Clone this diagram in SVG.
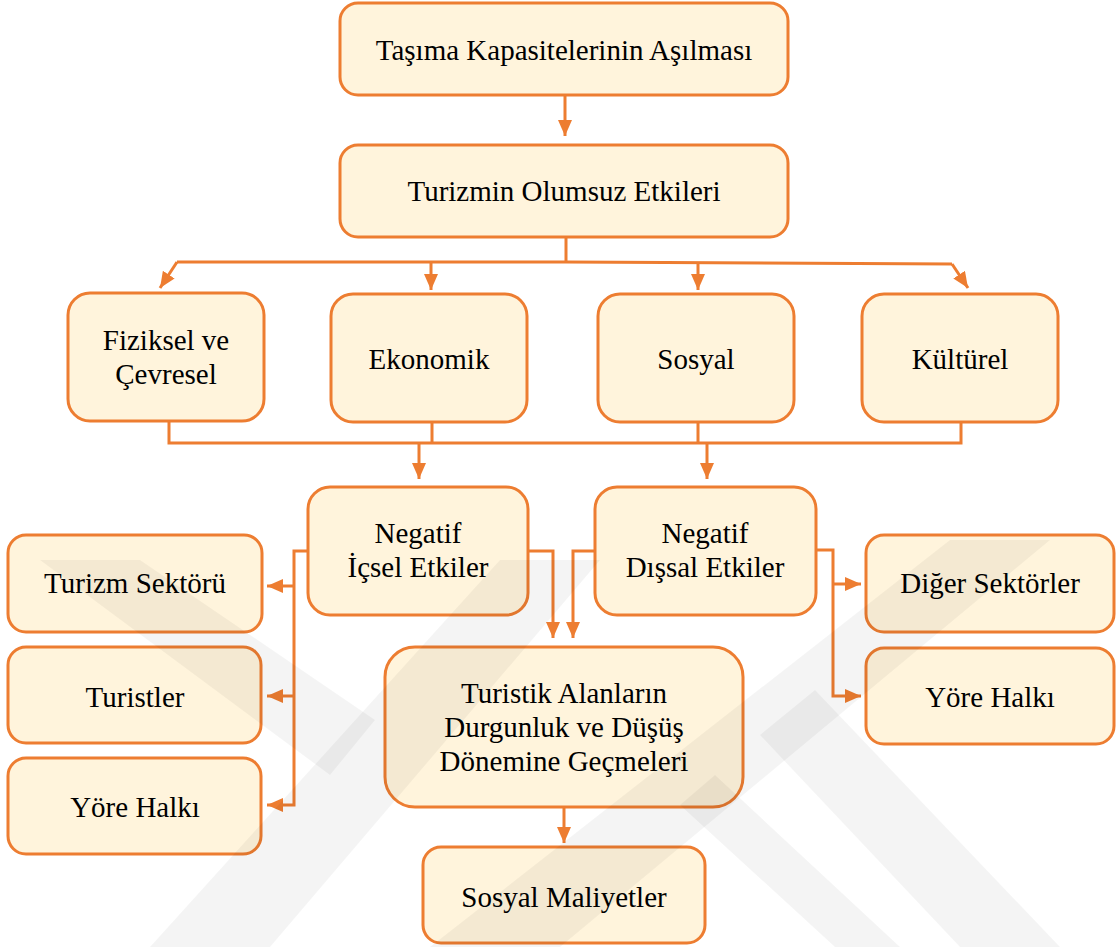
<svg xmlns="http://www.w3.org/2000/svg" width="1116" height="947" viewBox="0 0 1116 947">
  <defs>
    <style>
      .box { fill: #FFF4DC; stroke: #ED7D31; stroke-width: 3; }
      .lbl { font-family: 'Liberation Serif', 'Times New Roman', Tinos, 'DejaVu Serif', serif; font-size: 29px; fill: #000; text-anchor: middle; }
      .con { fill: none; stroke: #ED7D31; stroke-width: 3; stroke-linejoin: miter; }
      .wm { fill: #000; fill-opacity: 0.045; }
    </style>
    <marker id="ah" markerUnits="userSpaceOnUse" markerWidth="16" markerHeight="14" refX="16" refY="7" orient="auto">
      <path d="M0,0 L16,7 L0,14 z" fill="#ED7D31"/>
    </marker>
  </defs>
  <rect width="1116" height="947" fill="#ffffff"/>

  <g id="connectors">
    <line class="con" x1="565" y1="95" x2="565" y2="136" marker-end="url(#ah)"/>
    <line class="con" x1="566" y1="237" x2="566" y2="262"/>
    <polyline class="con" points="177,262 566,262 952,264"/>
    <line class="con" x1="177" y1="262" x2="160" y2="288" marker-end="url(#ah)"/>
    <line class="con" x1="952" y1="264" x2="968" y2="288" marker-end="url(#ah)"/>
    <line class="con" x1="431" y1="262" x2="431" y2="290" marker-end="url(#ah)"/>
    <line class="con" x1="698" y1="263" x2="698" y2="290" marker-end="url(#ah)"/>

    <polyline class="con" points="169,421 169,443 961,443 961,422"/>
    <line class="con" x1="432" y1="422" x2="432" y2="443"/>
    <line class="con" x1="698" y1="422" x2="698" y2="443"/>
    <line class="con" x1="419" y1="443" x2="419" y2="479" marker-end="url(#ah)"/>
    <line class="con" x1="707" y1="443" x2="707" y2="479" marker-end="url(#ah)"/>

    <polyline class="con" points="308,551 294,551 294,805 267,805" marker-end="url(#ah)"/>
    <line class="con" x1="294" y1="586" x2="267" y2="586" marker-end="url(#ah)"/>
    <line class="con" x1="294" y1="696" x2="267" y2="696" marker-end="url(#ah)"/>

    <polyline class="con" points="528,551 553,551 553,638" marker-end="url(#ah)"/>
    <polyline class="con" points="595,551 573,551 573,638" marker-end="url(#ah)"/>

    <polyline class="con" points="816,550 833,550 833,696 861,696" marker-end="url(#ah)"/>
    <line class="con" x1="833" y1="584" x2="861" y2="584" marker-end="url(#ah)"/>

    <line class="con" x1="564" y1="807" x2="564" y2="843" marker-end="url(#ah)"/>
  </g>

  <g id="n1"><rect class="box" x="340" y="3" width="448" height="92" rx="18"/><text class="lbl" x="564" y="60" font-family="Liberation Serif">Taşıma Kapasitelerinin Aşılması</text></g>
  <g id="n2"><rect class="box" x="340" y="145" width="448" height="92" rx="18"/><text class="lbl" x="564" y="201">Turizmin Olumsuz Etkileri</text></g>
  <g id="n3"><rect class="box" x="68" y="293" width="196" height="128" rx="22"/><text class="lbl" x="166" y="350">Fiziksel ve</text><text class="lbl" x="166" y="384">Çevresel</text></g>
  <g id="n4"><rect class="box" x="331" y="294" width="196" height="128" rx="22"/><text class="lbl" x="429" y="369">Ekonomik</text></g>
  <g id="n5"><rect class="box" x="598" y="294" width="196" height="128" rx="22"/><text class="lbl" x="696" y="369">Sosyal</text></g>
  <g id="n6"><rect class="box" x="862" y="294" width="196" height="128" rx="22"/><text class="lbl" x="960" y="369">Kültürel</text></g>
  <g id="n7"><rect class="box" x="308" y="487" width="220" height="128" rx="22"/><text class="lbl" x="418" y="543">Negatif</text><text class="lbl" x="418" y="577">İçsel Etkiler</text></g>
  <g id="n8"><rect class="box" x="595" y="487" width="221" height="128" rx="22"/><text class="lbl" x="705" y="543">Negatif</text><text class="lbl" x="705" y="577">Dışsal Etkiler</text></g>
  <g id="n9"><rect class="box" x="8" y="535" width="254" height="97" rx="18"/><text class="lbl" x="135" y="593">Turizm Sektörü</text></g>
  <g id="n10"><rect class="box" x="8" y="647" width="253" height="96" rx="18"/><text class="lbl" x="135" y="707">Turistler</text></g>
  <g id="n11"><rect class="box" x="8" y="758" width="253" height="96" rx="18"/><text class="lbl" x="135" y="817">Yöre Halkı</text></g>
  <g id="n12"><rect class="box" x="866" y="535" width="248" height="97" rx="18"/><text class="lbl" x="990" y="593">Diğer Sektörler</text></g>
  <g id="n13"><rect class="box" x="866" y="648" width="248" height="96" rx="18"/><text class="lbl" x="990" y="707">Yöre Halkı</text></g>
  <g id="n14"><rect class="box" x="385" y="647" width="358" height="160" rx="30"/><text class="lbl" x="564" y="703">Turistik Alanların</text><text class="lbl" x="564" y="737">Durgunluk ve Düşüş</text><text class="lbl" x="564" y="771">Dönemine Geçmeleri</text></g>
  <g id="n15"><rect class="box" x="423" y="847" width="282" height="96" rx="18"/><text class="lbl" x="564" y="907">Sosyal Maliyetler</text></g>

  <g id="watermark">
    <polygon class="wm" points="150,947 270,947 600,560 500,560"/>
    <polygon class="wm" points="40,560 140,560 375,720 330,775"/>
    <polygon class="wm" points="430,947 560,947 1050,540 950,540"/>
    <polygon class="wm" points="760,735 815,690 1060,947 960,947"/>
    <polygon class="wm" points="680,805 715,775 900,947 835,947"/>
  </g>
</svg>
